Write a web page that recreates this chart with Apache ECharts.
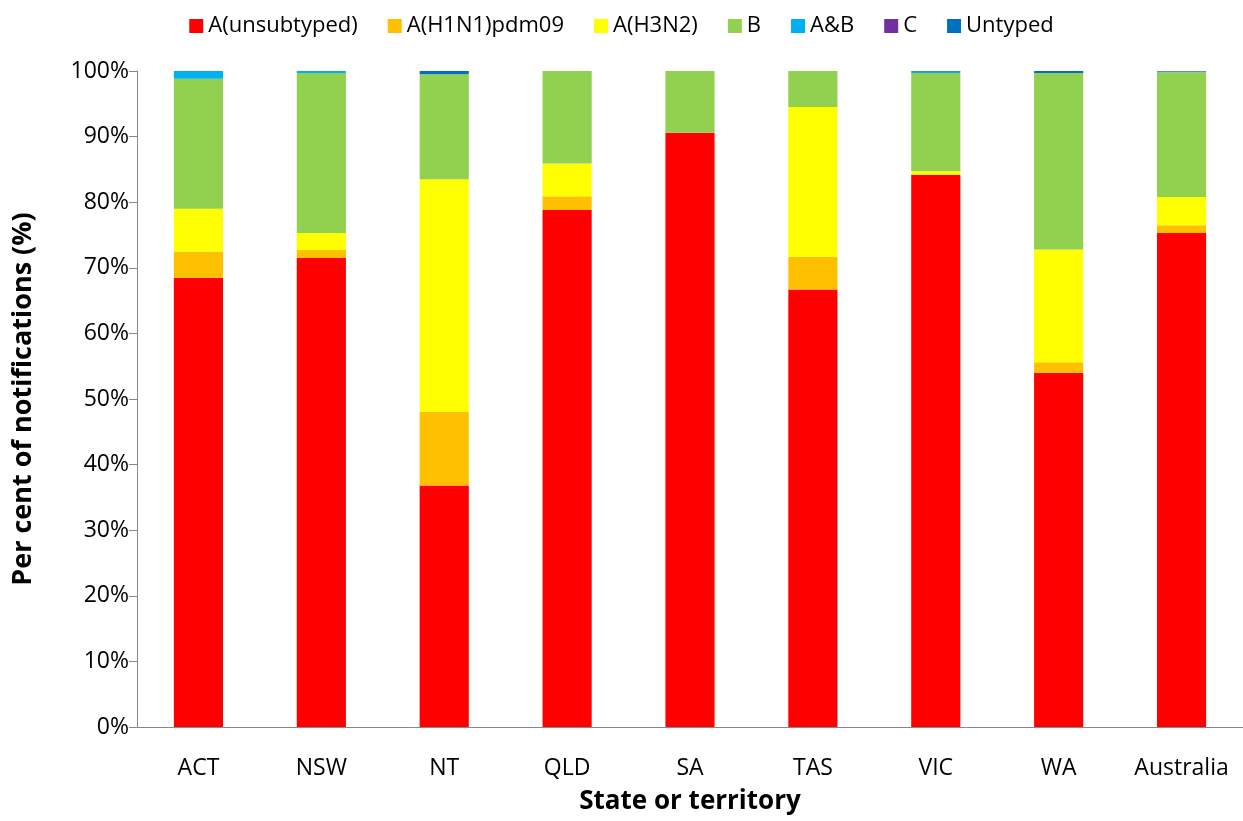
<!DOCTYPE html>
<html>
<head>
<meta charset="UTF-8">
<script src="https://cdn.jsdelivr.net/npm/echarts@6/dist/echarts.min.js"></script>
<style>
  html, body { margin: 0; padding: 0; }
  #chart { width: 1243px; height: 821px; }
</style>
</head>
<body>
<div id="chart"></div>
<script>
const states = ['ACT', 'NSW', 'NT', 'QLD', 'SA', 'TAS', 'VIC', 'WA', 'Australia'];
const seriesNames = ['A(unsubtyped)', 'A(H1N1)pdm09', 'A(H3N2)', 'B', 'A&B', 'C', 'Untyped'];
const colors = ['#ff0000', '#ffc000', '#ffff00', '#92d050', '#00b0f0', '#7030a0', '#0070c0'];
const aUnsub = [68.5, 71.5, 36.8, 78.8, 90.6, 66.7, 84.2, 54.0, 75.3];
const aH1N1 = [4.0, 1.2, 11.2, 2.1, 0, 5.0, 0, 1.6, 1.2];
const aH3N2 = [6.5, 2.6, 35.5, 5.0, 0, 22.8, 0.5, 17.2, 4.3];
const bType = [19.8, 24.4, 16.0, 14.1, 9.4, 5.5, 15.0, 26.9, 19.0];
const aAndB = [1.2, 0.3, 0, 0, 0, 0, 0.2, 0, 0.1];
const cType = [0, 0, 0, 0, 0, 0, 0, 0, 0.05];
const untyped = [0, 0, 0.5, 0, 0, 0, 0.1, 0.3, 0.05];
const values = [aUnsub, aH1N1, aH3N2, bType, aAndB, cType, untyped];

const font = 'Open Sans, Liberation Sans, sans-serif';
const chart = echarts.init(document.getElementById('chart'));
chart.setOption({
  animation: false,
  color: colors,
  textStyle: { fontFamily: font },
  legend: {
    top: 10, left: 'center', itemWidth: 14, itemHeight: 14, itemGap: 30,
    icon: 'rect',
    textStyle: { fontSize: 22, color: '#000' }
  },
  grid: { left: 137, right: 0, top: 71, bottom: 94 },
  xAxis: {
    type: 'category', data: states,
    name: 'State or territory', nameLocation: 'middle', nameGap: 62,
    nameTextStyle: { fontSize: 26, fontWeight: 'bold', color: '#000' },
    axisLine: { lineStyle: { color: '#888' } },
    axisTick: { length: 8, lineStyle: { color: '#888' } },
    axisLabel: { fontSize: 23, color: '#000', margin: 30 }
  },
  yAxis: {
    type: 'value', min: 0, max: 100, interval: 10,
    name: 'Per cent of notifications (%)', nameLocation: 'middle', nameGap: 100,
    nameTextStyle: { fontSize: 27, fontWeight: 'bold', color: '#000' },
    axisLine: { show: true, lineStyle: { color: '#888' } },
    axisTick: { show: true, length: 8, lineStyle: { color: '#888' } },
    splitLine: { show: false },
    axisLabel: { fontSize: 23, color: '#000', formatter: '{value}%' }
  },
  series: seriesNames.map((n, i) => ({
    name: n, type: 'bar', stack: 'all', barWidth: '40%',
    data: values[i]
  }))
});
</script>
</body>
</html>
